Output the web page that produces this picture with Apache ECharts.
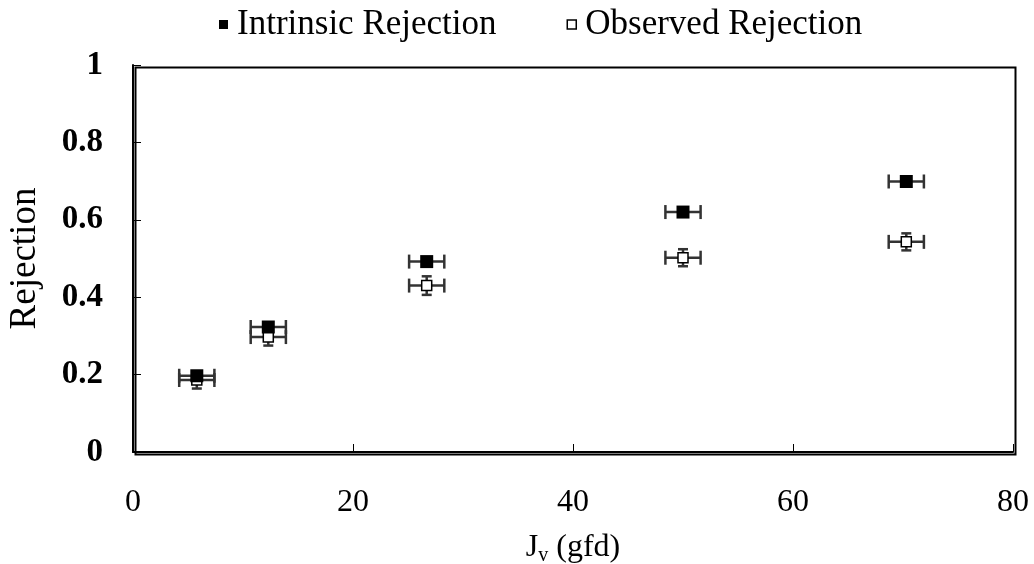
<!DOCTYPE html>
<html>
<head>
<meta charset="utf-8">
<script src="https://cdn.jsdelivr.net/npm/echarts@6/dist/echarts.min.js"></script>
<style>html,body{margin:0;padding:0;background:#fff}#c{width:1034px;height:564px}</style>
</head>
<body>
<div id="c"></div>
<script>
const jv = [5.8, 12.3, 26.7, 50.0, 70.3];
const intrinsic = [0.197, 0.323, 0.492, 0.620, 0.699];
const observed = [0.186, 0.297, 0.430, 0.502, 0.543];
const jvErr = [1.6, 1.6, 1.6, 1.6, 1.6];
const intrinsicErr = [0.01, 0.01, 0.01, 0.01, 0.01];
const observedErr = [0.022, 0.022, 0.024, 0.022, 0.022];
const seriesNames = ['Intrinsic Rejection', 'Observed Rejection'];

const FONT = '"Liberation Serif", "Times New Roman", serif';

function pts(ys) { return jv.map((x, i) => [x, ys[i]]); }
function errData(ys, yerr) { return jv.map((x, i) => [x, ys[i], jvErr[i], yerr[i]]); }

function errRender(params, api) {
  const x = api.value(0), y = api.value(1), xe = api.value(2), ye = api.value(3);
  const l = api.coord([x - xe, y]), r = api.coord([x + xe, y]);
  const t = api.coord([x, y + ye]), b = api.coord([x, y - ye]);
  const cap = 7, vcap = 5;
  const style = { stroke: '#333', lineWidth: 2.5 };
  return {
    type: 'group',
    children: [
      { type: 'line', shape: { x1: l[0], y1: l[1], x2: r[0], y2: r[1] }, style },
      { type: 'line', shape: { x1: l[0], y1: l[1] - cap, x2: l[0], y2: l[1] + cap }, style },
      { type: 'line', shape: { x1: r[0], y1: r[1] - cap, x2: r[0], y2: r[1] + cap }, style },
      { type: 'line', shape: { x1: t[0], y1: t[1], x2: b[0], y2: b[1] }, style },
      { type: 'line', shape: { x1: t[0] - vcap, y1: t[1], x2: t[0] + vcap, y2: t[1] }, style },
      { type: 'line', shape: { x1: b[0] - vcap, y1: b[1], x2: b[0] + vcap, y2: b[1] }, style }
    ]
  };
}

const chart = echarts.init(document.getElementById('c'));
chart.setOption({
  animation: false,
  backgroundColor: '#fff',
  legend: {
    top: 2,
    left: 214,
    itemGap: 70,
    itemWidth: 9,
    itemHeight: 9,
    textStyle: { fontFamily: FONT, fontSize: 35, color: '#000', padding: [0, 0, 0, 4] },
    data: [
      { name: seriesNames[0], icon: 'rect', itemStyle: { color: '#000' } },
      { name: seriesNames[1], icon: 'rect', itemStyle: { color: '#fff', borderColor: '#000', borderWidth: 1.5 } }
    ]
  },
  grid: { left: 133, right: 21, top: 65, bottom: 112, outerBoundsMode: 'none', containLabel: false },
  xAxis: {
    type: 'value', min: 0, max: 80, interval: 20,
    name: '{j|J}{s|v}{j| (gfd)}',
    nameLocation: 'middle', nameGap: 78,
    nameTextStyle: {
      rich: {
        j: { fontFamily: FONT, fontSize: 32, color: '#000' },
        s: { fontFamily: FONT, fontSize: 20, color: '#000', verticalAlign: 'bottom', padding: [16, 0, 0, 0] }
      }
    },
    axisLine: { show: true, lineStyle: { color: '#000', width: 2 } },
    axisTick: { show: true, inside: true, length: 8, lineStyle: { color: '#000', width: 1 } },
    axisLabel: { fontFamily: FONT, fontSize: 32, color: '#000', margin: 35 },
    splitLine: { show: false }
  },
  yAxis: {
    type: 'value', min: 0, max: 1, interval: 0.2,
    name: 'Rejection',
    nameLocation: 'middle', nameGap: 89,
    nameTextStyle: { fontFamily: FONT, fontSize: 37, color: '#000' },
    axisLine: { show: true, lineStyle: { color: '#000', width: 2 } },
    axisTick: { show: true, inside: true, length: 8, lineStyle: { color: '#000', width: 1 } },
    axisLabel: { fontFamily: FONT, fontSize: 33, fontWeight: 'bold', color: '#000', margin: 30,
      formatter: v => String(Math.round(v * 10) / 10) },
    splitLine: { show: false }
  },
  graphic: [{
    type: 'rect', left: 133, top: 65, z: 100, silent: true,
    shape: { width: 880, height: 387 },
    style: { fill: 'none', stroke: '#000', lineWidth: 2 }
  }],
  series: [
    {
      type: 'custom', name: seriesNames[1] + ' err', renderItem: errRender,
      data: errData(observed, observedErr), z: 2, silent: true
    },
    {
      name: seriesNames[1], type: 'scatter', symbol: 'rect', symbolSize: 10,
      itemStyle: { color: '#fff', borderColor: '#000', borderWidth: 1.5, opacity: 1 },
      data: pts(observed), z: 3
    },
    {
      type: 'custom', name: seriesNames[0] + ' err', renderItem: errRender,
      data: errData(intrinsic, intrinsicErr), z: 4, silent: true
    },
    {
      name: seriesNames[0], type: 'scatter', symbol: 'rect', symbolSize: 13,
      itemStyle: { color: '#000', opacity: 1 },
      data: pts(intrinsic), z: 5
    }
  ]
});
</script>
</body>
</html>
